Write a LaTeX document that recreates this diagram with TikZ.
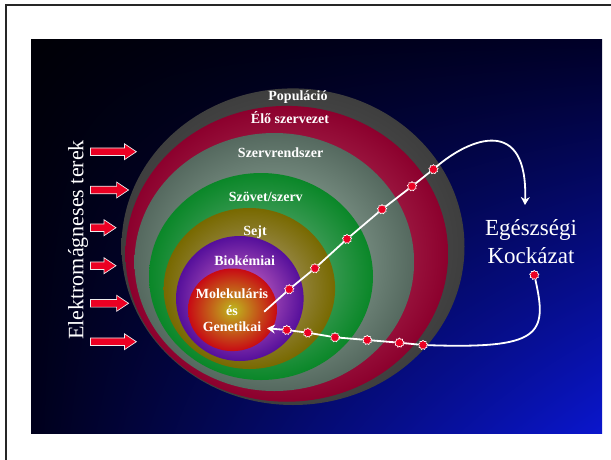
\documentclass[tikz,border=0pt]{standalone}
\usepackage{fontspec}
\setmainfont{Liberation Serif}
\usepackage{tikz}
\usetikzlibrary{shapes.geometric}
\usetikzlibrary{shadings}
\usetikzlibrary{arrows.meta}
\usetikzlibrary{positioning}
\definecolor{bgul}{RGB}{0,0,6}
\definecolor{bgur}{RGB}{0,0,40}
\definecolor{bgll}{RGB}{0,0,28}
\definecolor{bglr}{RGB}{10,22,205}
\definecolor{popout}{RGB}{62,62,62}
\definecolor{popin}{RGB}{98,98,98}
\definecolor{eloout}{RGB}{140,0,45}
\definecolor{eloin}{RGB}{195,85,115}
\definecolor{szrout}{RGB}{85,105,95}
\definecolor{szrin}{RGB}{165,190,175}
\definecolor{szvout}{RGB}{10,135,40}
\definecolor{szvin}{RGB}{125,180,145}
\definecolor{sejout}{RGB}{120,105,0}
\definecolor{sejin}{RGB}{180,165,140}
\definecolor{bioout}{RGB}{85,15,155}
\definecolor{bioin}{RGB}{220,115,200}
\definecolor{molout}{RGB}{200,10,20}
\definecolor{molin}{RGB}{190,185,30}
\definecolor{hitred}{RGB}{235,0,35}
\tikzstyle{ringtext} = [text=white, font=\fontsize{14}{16.5}\selectfont\bfseries,
    inner sep=0pt, align=center]
\tikzstyle{hit} = [star, star points=9, star point ratio=1.3, fill=hitred,
    draw=white, line width=0.6pt, inner sep=0pt, minimum size=9.5pt]
\tikzstyle{route} = [draw=white, line width=1.8pt]
\tikzstyle{emfield} = [fill=hitred, draw=white!85!gray, line width=0.7pt]

\begin{document}
\begin{tikzpicture}[x=1pt,y=-1pt]
    \useasboundingbox (0,0) rectangle (611,459);
    % Frame and panel
    \draw[line width=2pt, black!85] (6,462) -- (6,5) -- (614,5);
    \shade[upper left=bgul, upper right=bgur, lower left=bgll, lower right=bglr]
        (31,39) rectangle (602,433);
    % Nested levels
    \shade[inner color=popin, outer color=popout] (293,246.7) ellipse [x radius=171.5pt, y radius=158.3pt];
    \shade[inner color=eloin, outer color=eloout] (286.8,253.8) ellipse [x radius=161.3pt, y radius=147.9pt];
    \shade[inner color=szrin, outer color=szrout] (274.3,262) ellipse [x radius=139.8pt, y radius=129pt];
    \shade[inner color=szvin, outer color=szvout] (261,276.5) ellipse [x radius=112pt, y radius=103.5pt];
    \shade[inner color=sejin, outer color=sejout] (249.4,288.5) ellipse [x radius=85.7pt, y radius=80.5pt];
    \shade[inner color=bioin, outer color=bioout] (239.8,298.5) ellipse [x radius=63.8pt, y radius=62.5pt];
    \shade[inner color=molin, outer color=molout] (232.5,309.8) ellipse [x radius=44.5pt, y radius=41.3pt];
    % Place nodes
    \node[ringtext, anchor=base] (pop) at (298,100.7) {Populáció};
    \node[ringtext, anchor=base] (elo) at (290,123.3) {Élő szervezet};
    \node[ringtext, anchor=base] (szr) at (280.6,157.3) {Szervrendszer};
    \node[ringtext, anchor=base] (szv) at (265.8,201.7) {Szövet/szerv};
    \node[ringtext, anchor=base] (sej) at (255,235) {Sejt};
    \node[ringtext, anchor=base] (bio) at (244.7,265.7) {Biokémiai};
    \node[ringtext] (mol) at (232,310.5) {Molekuláris\\és\\Genetikai};
    \node[text=white, font=\fontsize{23}{28.3}\selectfont, align=center,
        inner sep=0pt] (risk) at (531,241.5) {Egészségi\\Kockázat};
    \node[text=white, font=\fontsize{22}{26}\selectfont, rotate=90, anchor=base,
        inner sep=0pt] (field) at (83.3,240) {Elektromágneses terek};
    % Field arrows
    \foreach \y/\tip in {151.7/136.4, 190/128.6, 227.7/116, 265.7/116, 303.3/128.6, 341.7/136.4}
        \draw[emfield] (90.4,\y-3.8) -- (\tip-12,\y-3.8) -- (\tip-12,\y-8) -- (\tip,\y)
            -- (\tip-12,\y+8) -- (\tip-12,\y+3.8) -- (90.4,\y+3.8) -- cycle;
    % Exposure dots
    \node[hit] (p1) at (289.2,289.3) {};
    \node[hit] (p2) at (314.9,268.3) {};
    \node[hit] (p3) at (347,239) {};
    \node[hit] (p4) at (382,209.3) {};
    \node[hit] (p5) at (412,186.3) {};
    \node[hit] (p6) at (433.4,169.3) {};
    \node[hit] (q1) at (286.8,330) {};
    \node[hit] (q2) at (307.8,332.7) {};
    \node[hit] (q3) at (335,337.3) {};
    \node[hit] (q4) at (367.2,340) {};
    \node[hit] (q5) at (399.4,342.7) {};
    \node[hit] (q6) at (423,345) {};
    \node[hit] (kdot) at (534.3,275) {};
    \coordinate (mstart) at (264.2,311.7);
    \coordinate (rtop) at (525,205);
    \coordinate (mend) at (267,328.3);
    % Draw edges
    \draw[route, -{Stealth[length=8pt, width=9pt]}] (mstart) -- (p1) -- (p2) -- (p3) -- (p4) -- (p5) -- (p6)
        .. controls (470,138) and (528,115) .. (rtop);
    \draw[route, -{Stealth[length=8pt, width=9pt]}] (kdot) .. controls (548,335) and (540,349) .. (q6)
        -- (q5) -- (q4) -- (q3) -- (q2) -- (q1) -- (mend);
\end{tikzpicture}
\end{document}
